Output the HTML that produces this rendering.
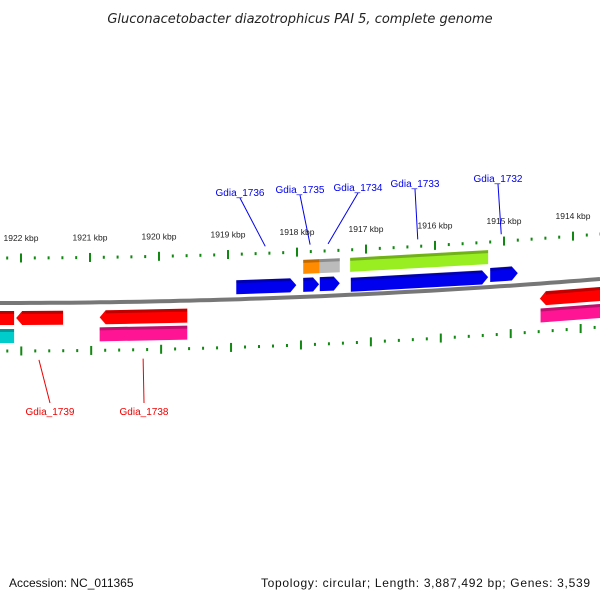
<!DOCTYPE html>
<html><head><meta charset="utf-8"><style>
body{margin:0;background:#fff;}
svg{display:block;font-family:"Liberation Sans","DejaVu Sans",sans-serif;}
</style></head><body>
<svg id="chart" width="600" height="600" viewBox="0 0 600 600">
<text x="300" y="23" text-anchor="middle" font-size="13" font-style="italic" fill="#222" style="font-family:'DejaVu Sans',sans-serif">Gluconacetobacter diazotrophicus PAI 5, complete genome</text>
<text x="9" y="587" font-size="12" fill="#111">Accession: NC_011365</text>
<text x="261" y="587" font-size="12" fill="#111" textLength="329" lengthAdjust="spacing">Topology: circular; Length: 3,887,492 bp; Genes: 3,539</text>
<g id="g"></g>
</svg>
<script>
const tickKbp = [1922,1921,1920,1919,1918,1917,1916,1915,1914];
const geneNames = ["Gdia_1736","Gdia_1735a","Gdia_1735","Gdia_1734a","Gdia_1734","Gdia_1733a","Gdia_1733","Gdia_1732","Gdia_1740","Gdia_1739","Gdia_1738a","Gdia_1738","Gdia_1739b","Gdia_1730a","Gdia_1730"];
const geneStart = [1918.88,1917.91,1917.91,1917.67,1917.67,1917.23,1917.22,1915.20,1922.32,1922.07,1920.86,1920.86,1922.32,1914.48,1914.47];
const geneEnd   = [1918.01,1917.67,1917.68,1917.38,1917.38,1915.23,1915.23,1914.80,1922.10,1921.39,1919.59,1919.59,1922.10,1913.55,1913.55];
const geneStrandOffset = [-12,-30,-12,-30,-12,-30,-10,-12,15,15,15,32,33,15,32];
const geneArrow = [1,0,1,0,1,0,1,1,0,-1,-1,0,0,-1,0];
const geneColor = ["#0000ee","#ff8c00","#0000ee","#bbbbbb","#0000ee","#99ee22","#0000ee","#0000ee","#ff0000","#ff0000","#ff0000","#ff1493","#00cccc","#ff0000","#ff1493"];
const labelNames = ["Gdia_1736","Gdia_1735","Gdia_1734","Gdia_1733","Gdia_1732","Gdia_1739","Gdia_1738"];
const labelKbp = [1918.46,1917.81,1917.55,1916.25,1915.04,1921.74,1920.23];
const labelStrand = [1,1,1,1,1,-1,-1];

const NS="http://www.w3.org/2000/svg";
const g=document.getElementById('g');
const X=k=>21+(1922-k)*69;
const Y=x=>303-x*x/15000;
function el(t,a){const e=document.createElementNS(NS,t);for(const k in a)e.setAttribute(k,a[k]);g.appendChild(e);return e;}

let d="";for(let x=0;x<=600;x+=10)d+=(x?"L":"M")+x+","+Y(x).toFixed(1);
let bb=el('path',{d:d,stroke:"#777",'stroke-width':4,fill:"none"});


for(let k=1923;k>=1913;k-=0.2){
  const kk=Math.round(k*5)/5;const major=Math.abs(kk-Math.round(kk))<0.01;
  const xu=X(kk);if(xu<-5||xu>605)continue;
  const h=major?4.5:1.5;
  const yu=Y(xu)-45, xl=xu+(xu/600)*8, yl=Y(xl)+48;
  let t1=el('line',{x1:xu,y1:yu-h,x2:xu,y2:yu+h,stroke:"#118811",'stroke-width':2});
  
  
  let t2=el('line',{x1:xl,y1:yl-h,x2:xl,y2:yl+h,stroke:"#118811",'stroke-width':2});
  
  
}
tickKbp.forEach(k=>{const x=X(k);const t=el('text',{x:x,y:Y(x)-62,'text-anchor':'middle','font-size':8.5,fill:'#222'});t.textContent=k+" kbp";
  
  });
geneNames.forEach((n,i)=>{
  const x1=X(geneStart[i]),x2=X(geneEnd[i]),o=geneStrandOffset[i];
  const y1=Y(x1)+o,y2=Y(x2)+o,h=7,a=geneArrow[i];
  let p;
  if(a===1){const xh=x2-6;const yh=Y(xh)+o;p=`${x1},${y1-h} ${xh},${yh-h} ${x2},${y2} ${xh},${yh+h} ${x1},${y1+h}`;}
  else if(a===-1){const xh=x1+6;const yh=Y(xh)+o;p=`${x1},${y1} ${xh},${yh-h} ${x2},${y2-h} ${x2},${y2+h} ${xh},${yh+h}`;}
  else p=`${x1},${y1-h} ${x2},${y2-h} ${x2},${y2+h} ${x1},${y1+h}`;
  const s=el('polygon',{points:p,fill:geneColor[i]});
  
  
  const sh=el('polygon',{points:`${x1+(a===-1?6:0)},${y1-h} ${x2-(a===1?6:0)},${y2-h} ${x2-(a===1?6:0)},${y2-h+3} ${x1+(a===-1?6:0)},${y1-h+3}`,fill:'rgba(0,0,0,0.25)'});
  
  
});
const txPos=[[240,196],[300,193],[358,191],[415,187],[498,182],[50,415],[144,415]];
labelNames.forEach((n,i)=>{
  const x=X(labelKbp[i]);const up=labelStrand[i]===1;
  const ya=up?Y(x)-52:Y(x)+57;
  const [tx,ty]=txPos[i];
  const ln=el('line',{x1:x,y1:ya,x2:tx,y2:up?ty+2:ty-12,stroke:up?'#0000ee':'#ee0000','stroke-width':1});
  
  
  const t=el('text',{x:tx,y:ty,'text-anchor':'middle','font-size':10,fill:up?'#0000ee':'#ee0000'});
  t.textContent=n;
  
  
});
</script>
</body></html>
